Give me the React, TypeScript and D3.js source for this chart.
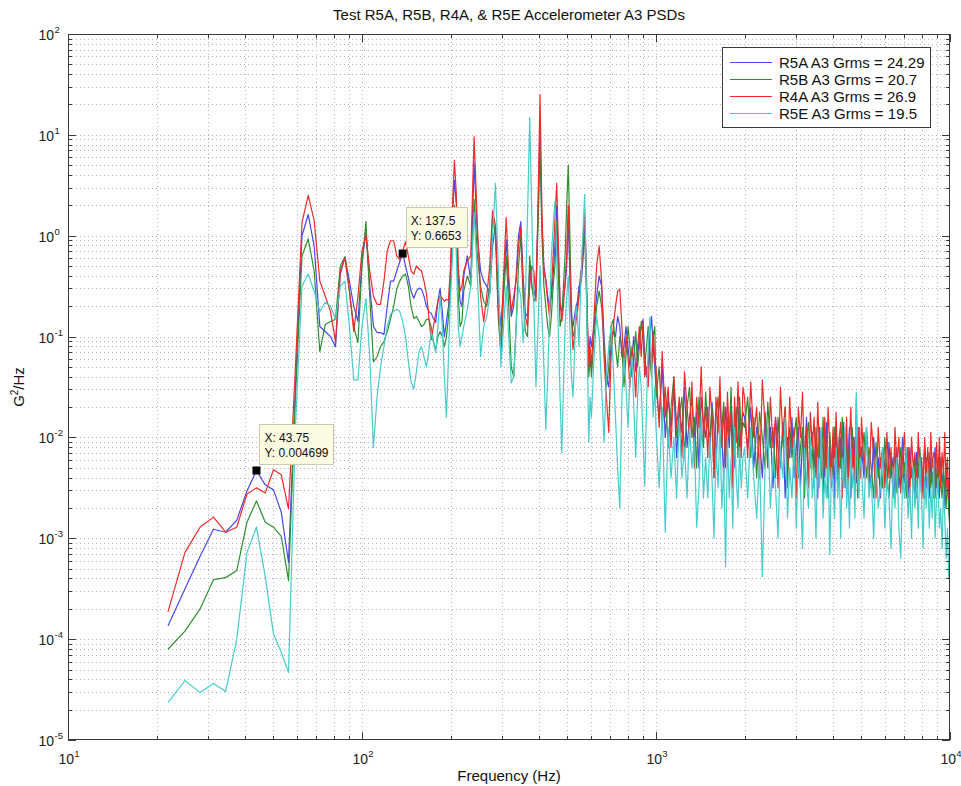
import * as d3 from "d3";
import { useEffect, useRef } from "react";

const W = 961, H = 786;
const M = { left: 68, top: 34, right: 950, bottom: 740 };
const FONT = "'Liberation Sans', Arial, Helvetica, sans-serif";

// PSD bins are 3.125 Hz apart (43.75 and 137.5 in the data tips); above 220 Hz values are read every few bins
const bandStart = [21.875, 221.875, 603.125, 1000, 2000, 5000];
const bandStep = [3.125, 6.25, 12.5, 25, 50, 100];

// log10(G^2/Hz) per band
const r5a = [
  [-3.87, -3.5, -3.18, -2.91, -2.94, -2.82, -2.53, -2.328, -2.47, -2.52, -2.74, -3.24, -1.5, 0.0, 0.21, -0.1, -0.9, -0.95, -1.0, -1.1, -0.38, -0.21, -0.45, -0.7, -0.85, -0.25, 0.03, -0.5, -0.9, -0.96, -0.96, -0.98, -0.7, -0.45, -0.45, -0.35, -0.26, -0.177, -0.3, -0.42, -0.55, -0.62, -0.55, -0.52, -0.53, -0.6, -0.7, -0.75, -0.77, -0.82, -0.86, -0.65, -0.52, -0.75, -1.0, -0.85, -0.7, -0.4, 0.2, 0.55, 0.3, -0.4, -0.65, -0.7],
  [-0.4, -0.2, -0.45, 0.72, 0.0, -0.35, -0.45, -0.5, -0.57, -0.1, 0.1, -0.6, -0.9, -0.5, -0.04, -0.5, -0.8, -0.7, -0.4, 0.0, 0.14, -0.4, -0.77, -0.8, -0.3, -0.5, -0.6, -0.5, 0.2, 1.07, 0.1, -0.3, -0.43, -0.6, -0.7, -0.6, -0.4, -0.1, 0.3, -0.2, -0.7, -0.75, -0.6, -0.5, -0.3, 0.2, -0.4, -0.85, -0.9, -0.8, -0.7, -0.65, -0.5, -0.5, -0.4, -0.2, 0.1, -0.3, -0.9, -1.2, -1.0],
  [-1.1, -0.9, -0.6, -0.4, -0.5, -1.0, -1.4, -1.5, -1.1, -0.95, -1.0, -0.8, -0.9, -1.2, -1.1, -0.9, -1.1, -1.3, -1.2, -1.0, -1.35, -1.2, -1.0, -0.9, -0.83, -1.2, -1.4, -1.3, -1.0, -0.8, -1.1, -1.3],
  [-1.5, -1.8, -1.3, -2.0, -1.6, -1.9, -1.5, -2.2, -1.7, -1.95, -1.5, -2.1, -1.8, -1.6, -2.0, -1.75, -2.3, -1.6, -1.85, -2.0, -1.7, -2.2, -1.65, -1.9, -2.3, -1.8, -1.6, -2.0, -2.4, -1.7, -1.9, -2.1, -1.6, -2.0, -2.3, -1.8, -1.7, -2.1, -1.9, -1.75],
  [-1.8, -2.1, -1.7, -2.3, -1.9, -2.0, -2.4, -1.75, -2.2, -1.9, -2.5, -1.8, -2.1, -2.3, -1.85, -2.6, -2.0, -2.2, -1.8, -2.4, -2.1, -1.9, -2.5, -2.0, -2.2, -1.8, -2.45, -2.1, -1.95, -2.3, -2.0, -2.6, -1.9, -2.2, -2.05, -2.4, -1.85, -2.5, -2.1, -2.3, -2.0, -2.6, -1.9, -2.2, -2.4, -2.0, -2.3, -1.85, -2.5, -2.1, -2.2, -1.9, -2.6, -2.1, -2.3, -2.0, -2.45, -2.15, -1.9, -2.35],
  [-2.1, -2.4, -1.9, -2.3, -2.5, -2.0, -2.4, -2.2, -2.6, -2.1, -2.3, -2.5, -2.05, -2.4, -2.2, -2.6, -2.1, -2.5, -2.3, -2.0, -2.45, -2.2, -2.6, -2.1, -2.4, -2.3, -2.65, -2.15, -2.4, -2.2, -2.55, -2.3, -2.1, -2.5, -2.35, -2.6, -2.2, -2.45, -2.3, -2.1, -2.5, -2.3, -2.6, -2.2, -2.45, -2.35, -2.7, -2.25, -2.5, -2.6, -2.8],
];

const r5b = [
  [-4.1, -3.92, -3.7, -3.41, -3.39, -3.32, -2.84, -2.63, -2.84, -2.89, -2.98, -3.42, -1.6, -0.2, -0.03, -0.35, -1.15, -0.88, -0.85, -0.83, -0.3, -0.21, -0.55, -0.9, -1.06, -0.3, 0.14, -0.6, -1.25, -1.2, -1.1, -1.05, -0.95, -0.83, -0.7, -0.53, -0.45, -0.4, -0.38, -0.5, -0.7, -0.82, -0.8, -0.85, -0.9, -0.88, -0.83, -0.83, -0.9, -1.05, -1.13, -1.0, -0.95, -1.0, -1.1, -1.0, -0.8, -0.5, 0.0, 0.3, 0.1, -0.6, -0.9, -0.85],
  [-0.55, -0.4, -0.5, 0.36, -0.2, -0.5, -0.65, -0.7, -0.5, 0.2, 0.0, -0.8, -1.2, -0.6, -0.2, -0.7, -1.3, -1.4, -0.9, -0.3, 0.0, -0.6, -0.95, -1.0, -0.2, -0.5, -0.65, -0.6, 0.1, 0.88, 0.0, -0.5, -0.7, -0.9, -1.0, -0.8, -0.5, -0.3, 0.15, -0.4, -0.9, -0.8, -0.5, -0.2, 0.3, 0.7, 0.0, -0.7, -1.0, -0.95, -0.8, -0.7, -0.6, -0.45, -0.3, -0.04, 0.0, -0.4, -1.0, -1.4, -1.2],
  [-1.4, -1.0, -0.7, -0.55, -0.7, -1.1, -1.5, -1.3, -0.9, -0.83, -1.1, -1.3, -1.0, -1.1, -1.5, -1.2, -0.9, -1.1, -1.4, -1.2, -0.95, -1.3, -1.1, -0.85, -1.0, -1.3, -1.1, -0.9, -1.2, -1.4, -1.0, -0.9],
  [-1.6, -1.3, -1.9, -1.5, -2.1, -1.7, -1.4, -2.0, -1.8, -1.6, -2.2, -1.7, -1.5, -2.0, -1.8, -2.3, -1.6, -1.9, -2.1, -1.55, -1.9, -2.0, -1.7, -2.4, -1.8, -1.6, -2.1, -1.9, -1.65, -2.2, -1.8, -2.0, -1.5, -2.3, -1.9, -1.7, -2.2, -1.6, -2.0, -1.85],
  [-1.9, -1.6, -2.2, -1.8, -2.4, -1.75, -2.0, -2.3, -1.65, -2.1, -1.9, -2.4, -1.8, -2.2, -2.0, -1.7, -2.5, -1.9, -2.2, -2.0, -1.8, -2.4, -2.1, -1.9, -2.6, -2.0, -1.85, -2.3, -2.1, -2.5, -1.9, -2.2, -2.0, -2.4, -1.8, -2.3, -2.1, -2.6, -1.95, -2.2, -2.4, -1.9, -2.1, -2.5, -2.0, -2.3, -1.8, -2.2, -2.45, -2.0, -2.3, -2.1, -2.5, -1.9, -2.2, -2.4, -2.0, -2.6, -2.1, -2.25],
  [-2.2, -1.95, -2.4, -2.1, -2.3, -2.6, -2.05, -2.4, -2.2, -2.5, -2.0, -2.35, -2.6, -2.2, -2.4, -2.1, -2.55, -2.3, -2.1, -2.5, -2.25, -2.6, -2.1, -2.4, -2.3, -2.5, -2.2, -2.6, -2.3, -2.1, -2.45, -2.3, -2.6, -2.2, -2.4, -2.15, -2.5, -2.35, -2.6, -2.25, -2.4, -2.55, -2.2, -2.45, -2.6, -2.3, -2.5, -2.7, -2.4, -2.75, -2.9],
];

const r4a = [
  [-3.73, -3.14, -2.89, -2.79, -2.94, -2.89, -2.56, -2.5, -2.55, -2.32, -2.37, -2.71, -1.3, 0.13, 0.4, 0.15, -0.45, -0.6, -0.75, -1.05, -0.35, -0.22, -0.55, -0.95, -0.6, -0.15, 0.01, -0.35, -0.6, -0.68, -0.68, -0.45, -0.15, -0.05, -0.05, -0.2, -0.24, -0.15, -0.06, -0.2, -0.35, -0.38, -0.3, -0.33, -0.35, -0.45, -0.57, -0.8, -1.03, -0.9, -0.77, -0.65, -0.6, -0.62, -0.65, -0.63, -0.64, -0.3, 0.3, 0.75, 0.4, -0.3, -0.55, -0.5],
  [-0.35, -0.25, -0.2, 0.98, 0.1, -0.6, -0.85, -0.6, -0.3, 0.25, 0.1, -0.7, -1.1, -0.4, 0.18, -0.4, -0.75, -0.6, -0.45, -0.1, 0.09, -0.5, -0.8, -0.9, -0.5, -0.3, -0.35, -0.65, 0.3, 1.4, 0.2, -0.35, -0.45, -0.65, -0.8, -0.55, -0.2, 0.15, 0.52, -0.1, -0.65, -0.85, -0.7, -0.45, -0.2, 0.3, -0.3, -0.8, -1.13, -1.0, -0.85, -0.75, -0.6, -0.4, -0.3, 0.0, 0.24, -0.2, -0.8, -1.3, -1.1],
  [-1.3, -0.8, -0.3, -0.1, -0.45, -1.2, -1.6, -1.95, -1.2, -0.9, -0.7, -0.55, -0.53, -0.9, -1.3, -1.0, -1.2, -1.5, -1.1, -1.3, -1.6, -1.1, -0.9, -1.2, -0.85, -1.4, -1.3, -1.5, -1.1, -1.3, -0.95, -1.25],
  [-1.3, -1.9, -1.15, -1.8, -1.5, -2.1, -1.4, -1.9, -1.6, -2.2, -1.35, -1.7, -2.0, -1.45, -2.3, -1.6, -1.9, -1.3, -2.0, -1.7, -2.2, -1.5, -1.8, -2.4, -1.6, -1.95, -1.4, -2.1, -1.7, -2.3, -1.55, -2.0, -1.75, -2.5, -1.6, -2.05, -1.45, -1.9, -2.2, -1.5],
  [-1.6, -2.2, -1.45, -2.0, -1.7, -2.4, -1.43, -1.9, -2.3, -1.6, -2.1, -1.8, -2.5, -1.5, -2.0, -1.7, -2.35, -1.6, -2.1, -1.9, -2.6, -1.7, -2.0, -1.55, -2.3, -1.9, -2.5, -1.75, -2.1, -1.8, -2.4, -1.65, -2.2, -2.0, -2.6, -1.8, -2.3, -1.7, -2.1, -2.5, -1.9, -2.2, -1.75, -2.4, -2.0, -1.85, -2.6, -1.95, -2.3, -1.8, -2.5, -2.05, -1.7, -2.3, -2.0, -2.55, -1.62, -2.2, -1.9, -2.4],
  [-1.8, -2.3, -2.0, -2.5, -1.85, -2.2, -2.6, -1.9, -2.3, -2.1, -2.5, -1.95, -2.4, -2.1, -2.6, -1.9, -2.3, -2.0, -2.55, -2.2, -1.95, -2.4, -2.1, -2.6, -2.0, -2.3, -2.15, -2.5, -1.95, -2.4, -2.2, -2.6, -2.0, -2.35, -2.1, -2.5, -1.95, -2.3, -2.15, -2.6, -2.05, -2.4, -2.0, -2.5, -2.15, -2.35, -1.95, -2.5, -2.2, -2.6, -2.3],
];

const r5e = [
  [-4.63, -4.41, -4.53, -4.44, -4.52, -4.0, -3.14, -2.89, -3.38, -3.95, -4.13, -4.33, -1.9, -0.5, -0.38, -0.55, -0.75, -0.66, -0.7, -0.83, -0.5, -0.45, -0.9, -1.43, -1.43, -0.9, -0.62, -1.2, -2.1, -1.6, -1.3, -1.1, -0.9, -0.78, -0.75, -0.73, -0.75, -0.85, -1.0, -1.25, -1.45, -1.52, -1.35, -1.15, -1.1, -1.2, -1.3, -1.15, -0.95, -1.05, -1.16, -0.9, -0.6, -0.9, -1.4, -1.8, -1.2, -0.6, -0.2, 0.2, -0.2, -0.9, -1.1, -1.0],
  [-0.9, -0.73, -0.5, 0.23, -0.4, -1.2, -0.9, -0.8, -0.6, 0.0, 0.52, -0.3, -1.3, -0.9, -0.5, -1.0, -1.46, -1.4, -0.9, -0.5, -0.6, -1.06, -0.6, 0.2, 1.17, 0.2, -0.7, -1.5, -0.9, -0.3, -0.8, -1.3, -1.92, -1.4, -0.8, -0.2, 0.1, 0.34, -0.2, -1.0, -1.6, -2.15, -1.5, -0.9, -0.6, -0.4, -0.9, -1.4, -1.6, -1.2, -0.7, -0.8, -1.1, -0.6, -0.2, 0.1, 0.41, -0.3, -1.2, -2.05, -1.6],
  [-1.8, -1.2, -0.8, -1.0, -1.5, -2.05, -1.4, -1.1, -0.9, -1.3, -1.8, -2.3, -2.7, -1.6, -1.2, -1.5, -1.9, -1.4, -1.2, -1.7, -2.2, -1.6, -1.3, -1.5, -2.0, -2.48, -1.7, -1.1, -0.81, -1.3, -1.8, -1.5],
  [-1.9, -2.5, -1.7, -2.94, -1.9, -2.4, -2.0, -2.6, -1.8, -2.4, -2.1, -2.6, -1.9, -2.3, -2.0, -2.89, -2.5, -1.8, -2.6, -2.2, -2.6, -2.0, -2.4, -3.0, -2.1, -2.5, -1.9, -2.7, -2.3, -3.28, -2.0, -2.6, -2.2, -2.9, -1.9, -2.4, -2.7, -2.1, -2.5, -2.2],
  [-2.1, -2.6, -1.9, -2.4, -2.8, -2.2, -3.38, -2.3, -1.9, -2.7, -2.2, -2.5, -3.0, -2.1, -2.4, -1.8, -2.8, -2.3, -2.6, -2.0, -2.9, -2.2, -2.5, -3.1, -2.1, -2.4, -2.7, -2.0, -2.6, -2.3, -3.0, -2.2, -2.5, -1.9, -2.8, -2.4, -2.6, -2.1, -3.16, -2.3, -2.5, -2.8, -2.1, -2.6, -2.3, -3.0, -2.2, -2.5, -1.9, -2.7, -2.4, -2.9, -2.1, -2.5, -2.3, -2.8, -1.55, -2.4, -2.6, -2.2],
  [-2.3, -2.8, -1.9, -2.6, -2.4, -3.0, -2.2, -2.7, -2.5, -2.1, -2.9, -2.4, -2.6, -3.1, -2.3, -2.7, -2.2, -2.9, -3.2, -2.4, -2.6, -2.1, -2.8, -2.5, -3.0, -2.3, -2.7, -2.4, -2.9, -2.2, -2.6, -3.1, -2.4, -2.7, -2.3, -2.9, -2.5, -2.8, -2.2, -3.0, -2.6, -2.4, -2.9, -2.7, -3.1, -2.5, -2.8, -3.2, -2.9, -3.4, -3.35],
];

// drawn in this order, so R5E ends up on top
const seriesData = [r5a, r5b, r4a, r5e];
const seriesLabels = ["R5A A3 Grms = 24.29", "R5B A3 Grms = 20.7", "R4A A3 Grms = 26.9", "R5E A3 Grms = 19.5"];
const seriesColors = ["#4747ee", "#2f8f2f", "#ee2a2a", "#45cccc"];

const tipFreq = [43.75, 137.5];
const tipValue = [0.004699, 0.6653];
const tipLabelX = ["X: 43.75", "X: 137.5"];
const tipLabelY = ["Y: 0.004699", "Y: 0.6653"];

const decadesX = [1, 2, 3, 4];
const decadesY = [-5, -4, -3, -2, -1, 0, 1, 2];

export default function App() {
  const ref = useRef<SVGSVGElement>(null);

  useEffect(() => {
    document.body.style.margin = "0";
    const svg = d3.select(ref.current);
    svg.selectAll("*").remove();

    const x = d3.scaleLog().domain([10, 1e4]).range([M.left, M.right]);
    const y = d3.scaleLog().domain([1e-5, 1e2]).range([M.bottom, M.top]);

    const mkTicks = (decs: number[]) => {
      const out: { v: number; major: boolean }[] = [];
      decs.forEach((p, k) => {
        for (let m = 1; m <= 9; m++) {
          if (k === decs.length - 1 && m > 1) break;
          out.push({ v: m * Math.pow(10, p), major: m === 1 });
        }
      });
      return out;
    };
    const xt = mkTicks(decadesX);
    const yt = mkTicks(decadesY);
    const px = (v: number) => Math.round(x(v)) + 0.5;
    const py = (v: number) => Math.round(y(v)) + 0.5;

    svg.append("rect").attr("width", W).attr("height", H).attr("fill", "#fff");

    // grid
    const grid = svg.append("g").attr("stroke", "#b4b4b4").attr("stroke-width", 1).attr("stroke-dasharray", "1,3");
    xt.slice(1, -1).forEach(t => {
      grid.append("line").attr("x1", px(t.v)).attr("x2", px(t.v)).attr("y1", M.top).attr("y2", M.bottom);
    });
    yt.slice(1, -1).forEach(t => {
      grid.append("line").attr("y1", py(t.v)).attr("y2", py(t.v)).attr("x1", M.left).attr("x2", M.right);
    });

    // series
    svg.append("clipPath").attr("id", "plotclip").append("rect")
      .attr("x", M.left).attr("y", M.top).attr("width", M.right - M.left).attr("height", M.bottom - M.top);
    const line = d3.line<[number, number]>().x(d => x(d[0])).y(d => y(d[1]));
    const lines = svg.append("g").attr("clip-path", "url(#plotclip)");
    seriesData.forEach((bands, s) => {
      const pts: [number, number][] = bands.flatMap((vals, b) =>
        vals.map((v, i) => [bandStart[b] + i * bandStep[b], Math.pow(10, v)] as [number, number]));
      lines.append("path").attr("d", line(pts)).attr("fill", "none")
        .attr("stroke", seriesColors[s]).attr("stroke-width", 1.2).attr("stroke-linejoin", "round");
    });

    // frame and ticks
    const ax = svg.append("g").attr("stroke", "#3a3a3a").attr("stroke-width", 1);
    ax.append("rect").attr("x", M.left + 0.5).attr("y", M.top + 0.5)
      .attr("width", M.right - M.left - 1).attr("height", M.bottom - M.top - 1).attr("fill", "none");
    xt.forEach(t => {
      const len = t.major ? 8 : 4;
      ax.append("line").attr("x1", px(t.v)).attr("x2", px(t.v)).attr("y1", M.bottom).attr("y2", M.bottom - len);
      ax.append("line").attr("x1", px(t.v)).attr("x2", px(t.v)).attr("y1", M.top).attr("y2", M.top + len);
    });
    yt.forEach(t => {
      const len = t.major ? 8 : 4;
      ax.append("line").attr("y1", py(t.v)).attr("y2", py(t.v)).attr("x1", M.left).attr("x2", M.left + len);
      ax.append("line").attr("y1", py(t.v)).attr("y2", py(t.v)).attr("x1", M.right).attr("x2", M.right - len);
    });

    // tick labels
    const lab = svg.append("g").attr("font-family", FONT).attr("fill", "#222");
    decadesX.forEach(p => {
      const t = lab.append("text").attr("x", x(Math.pow(10, p)) + 1).attr("y", 764)
        .attr("text-anchor", "middle").attr("font-size", 14);
      t.append("tspan").text("10");
      t.append("tspan").attr("dy", -7).attr("font-size", 9.5).text(String(p));
    });
    decadesY.forEach(p => {
      const yy = y(Math.pow(10, p));
      lab.append("text").attr("x", 54).attr("y", yy + 6).attr("text-anchor", "end")
        .attr("font-size", 14).text("10");
      lab.append("text").attr("x", 54.5).attr("y", yy - 1).attr("font-size", 9.5).text(String(p));
    });

    // titles
    svg.append("text").attr("x", (M.left + M.right) / 2).attr("y", 20).attr("text-anchor", "middle")
      .attr("font-family", FONT).attr("font-size", 15).attr("fill", "#111")
      .text("Test R5A, R5B, R4A, & R5E Accelerometer A3 PSDs");
    svg.append("text").attr("x", (M.left + M.right) / 2).attr("y", 781).attr("text-anchor", "middle")
      .attr("font-family", FONT).attr("font-size", 15).attr("fill", "#111").text("Frequency (Hz)");
    const yl = svg.append("text").attr("transform", `translate(24,${(M.top + M.bottom) / 2}) rotate(-90)`)
      .attr("text-anchor", "middle").attr("font-family", FONT).attr("font-size", 15).attr("fill", "#111");
    yl.append("tspan").text("G");
    yl.append("tspan").attr("dy", -6).attr("font-size", 10).text("2");
    yl.append("tspan").attr("dy", 6).text("/Hz");

    // data tips
    tipFreq.forEach((f, i) => {
      const mx = x(f), my = y(tipValue[i]);
      const g = svg.append("g").attr("font-family", FONT).attr("font-size", 12).attr("fill", "#111");
      const box = g.append("rect").attr("x", Math.round(mx) + 3.5).attr("y", Math.round(my) - 46.5).attr("height", 40)
        .attr("fill", "#fbfbe2").attr("stroke", "#c9c9b4");
      const t1 = g.append("text").attr("x", mx + 8).attr("y", my - 29).text(tipLabelX[i]);
      const t2 = g.append("text").attr("x", mx + 8).attr("y", my - 14).text(tipLabelY[i]);
      const wTxt = Math.max((t1.node() as SVGTextElement).getComputedTextLength(),
        (t2.node() as SVGTextElement).getComputedTextLength());
      box.attr("width", Math.round(wTxt) + 10);
      g.append("rect").attr("x", mx - 4).attr("y", my - 4).attr("width", 8).attr("height", 8).attr("fill", "#000");
    });

    // legend
    const lg = svg.append("g").attr("font-family", FONT);
    lg.append("rect").attr("x", 722.5).attr("y", 47.5).attr("width", 208).attr("height", 80)
      .attr("fill", "#fff").attr("stroke", "#3a3a3a");
    seriesLabels.forEach((s, i) => {
      const cy = 62.5 + i * 17;
      lg.append("line").attr("x1", 730).attr("x2", 772).attr("y1", cy).attr("y2", cy)
        .attr("stroke", seriesColors[i]).attr("stroke-width", 1.2);
      lg.append("text").attr("x", 779).attr("y", cy + 5).attr("font-size", 15).attr("fill", "#111").text(s);
    });
  }, []);

  return <svg ref={ref} width={W} height={H} style={{ display: "block" }} />;
}
